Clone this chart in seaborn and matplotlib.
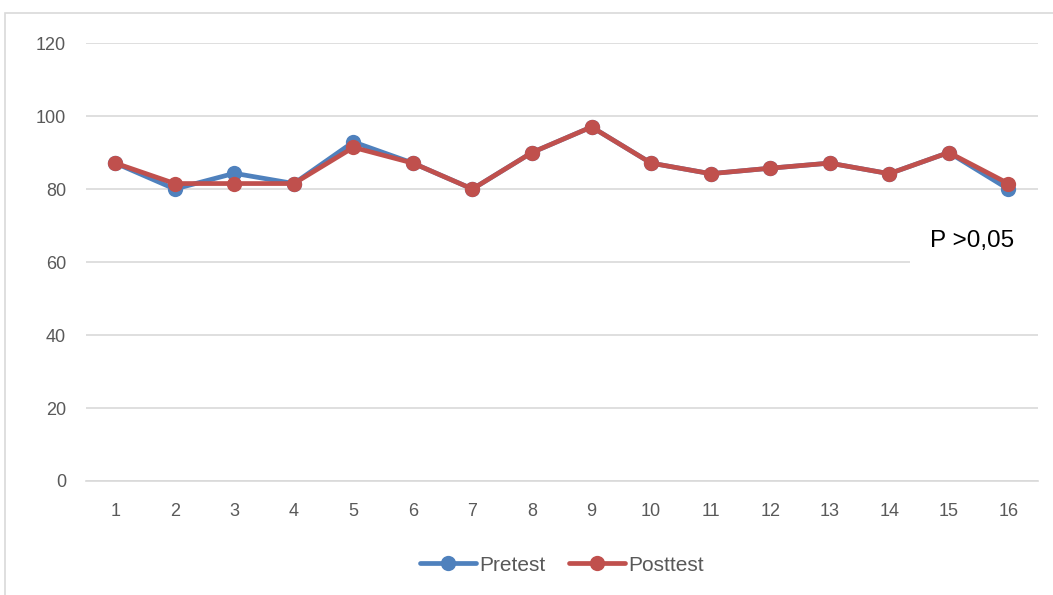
import matplotlib.pyplot as plt
import seaborn as sns
import pandas as pd
from matplotlib.patches import Rectangle

# Data
subjects = list(range(1, 17))
pretest = [87.1, 80, 84.3, 81.5, 92.9, 87.1, 80, 90, 97, 87.1, 84.2, 85.7, 87.1, 84.2, 90, 80]
posttest = [87.1, 81.5, 81.5, 81.5, 91.4, 87.1, 80, 90, 97, 87.1, 84.2, 85.7, 87.1, 84.2, 90, 81.5]
series_names = ["Pretest", "Posttest"]
colors = ["#4F81BD", "#C0504D"]

df = pd.DataFrame({
    "subject": subjects * 2,
    "score": pretest + posttest,
    "series": [series_names[0]] * len(subjects) + [series_names[1]] * len(subjects),
})

sns.set_style("white")
plt.rcParams["font.family"] = ["Liberation Sans", "DejaVu Sans"]

fig = plt.figure(figsize=(10.53, 5.95), dpi=100)
ax = fig.add_axes([0.0812, 0.1916, 0.9046, 0.7361])

# outer chart frame
fig.patches.append(Rectangle((5 / 1053, -0.02), 1.0, 1 - 13 / 595 + 0.02, transform=fig.transFigure,
                             fill=False, edgecolor="#D9D9D9", linewidth=1.2, zorder=0))

sns.lineplot(data=df, x="subject", y="score", hue="series", palette=colors,
             marker="o", markersize=11, markeredgewidth=0, linewidth=3.4, ax=ax)

ax.set_xlim(0.5, 16.5)
ax.set_ylim(0, 120)
ax.set_yticks(range(0, 121, 20))
ax.set_xticks(subjects)
ax.grid(axis="y", color="#D9D9D9", linewidth=1.2)
ax.set_axisbelow(True)
for s in ["left", "right", "top"]:
    ax.spines[s].set_visible(False)
ax.spines["bottom"].set_color("#D9D9D9")
ax.spines["bottom"].set_linewidth(1.2)
ax.tick_params(axis="both", length=0, labelsize=13, labelcolor="#595959")
ax.tick_params(axis="x", pad=16)
ax.tick_params(axis="y", pad=14)
ax.set_xlabel("")
ax.set_ylabel("")

leg = ax.legend(loc="center", bbox_to_anchor=(0.5, -0.192), ncol=2, frameon=False,
                fontsize=15, handlelength=2.7, columnspacing=1.1, handletextpad=0.15)
for t in leg.get_texts():
    t.set_color("#595959")

# p-value annotation with white box covering the grid
fig.patches.append(Rectangle((910 / 1053, 1 - 268 / 595), 130 / 1053, 50 / 595, transform=fig.transFigure,
                             facecolor="white", edgecolor="none", zorder=3))
fig.text(930 / 1053, 1 - 241 / 595, "P >0,05", fontsize=17.5, color="black", ha="left", va="center", zorder=4)

fig.savefig("out.png", dpi=100)
